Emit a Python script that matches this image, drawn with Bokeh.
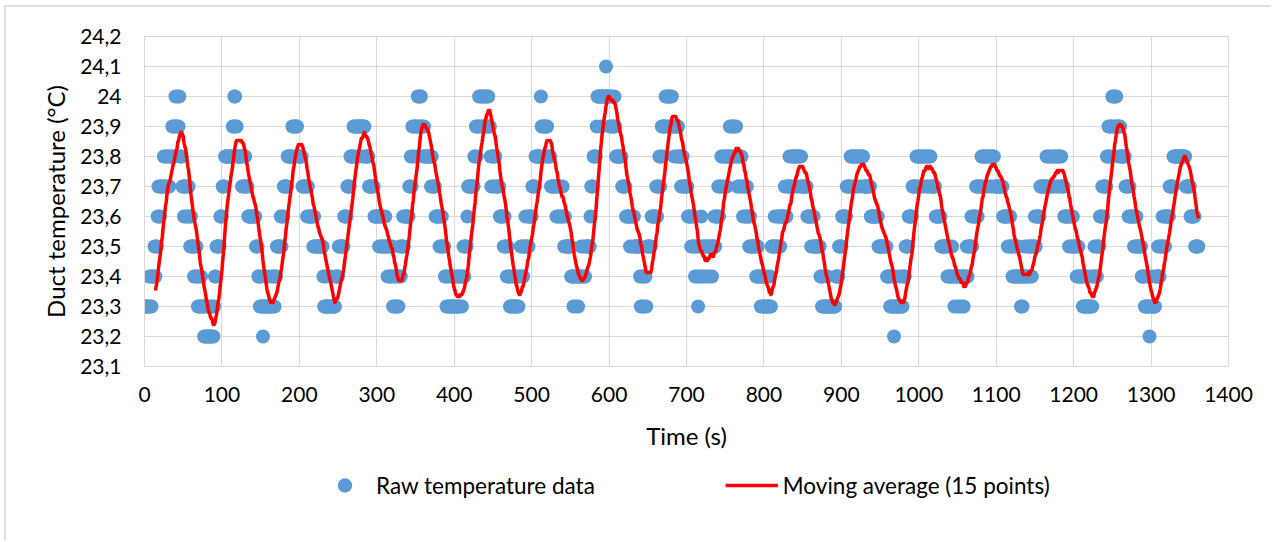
import numpy as np
import pandas as pd
from bokeh.plotting import figure
from bokeh.layouts import column
from bokeh.models import FixedTicker, Legend, LegendItem, ColumnDataSource
from bokeh.embed import file_html
from bokeh.resources import INLINE

# Duct temperature logged once per second. Each character is one reading in
# tenths of a degree above 23 degC, written as a hex digit:
# "2" = 23.2, "3" = 23.3, ..., "9" = 23.9, "a" = 24.0, "b" = 24.1.
# Blocks are named after the second at which they start.
raw_0000 = "333333" "4343444" "5455" "67667" "777" "8787887" "78" "889989" "a99a9a" "888" \
    "776776767" "656" "555" "4545" "434334333" "2322322322322"
raw_0090 = "344" "55555" "666" "7778" "888888888" "99aa99" "888888" "787787" "77" \
    "6666666666" "555" "4434" "332334333433334" "34344"
raw_0171 = "55555" "6566" "77777" "888888" "9989999" "88888" "87" "7777767" "666666" \
    "565" "5555555555" "433433333433333"
raw_0246 = "34444" "5555555" "6666" "7777" "8888" "998999899998999" "88888" "7777777" \
    "666666" "5656565565" "54545445" "34343343" "45455"
raw_0334 = "65666666" "7787" "9899899" "aa9aa9" "9898" "8888888" "787777" "66666" \
    "5656555" "44" "343343343334343" "3434434545"
raw_0415 = "55" "6" "77777777" "88" "989" "9a9aa9a9aa9a9a" "99" "8788788" "77777" \
    "66666" "5655" "4544" "3343343334334"
raw_0485 = "454545" "565565" "6666" "7777" "8888888" "a" "99899899" "8888" "777777" \
    "7676767667" "6565" "5555554" "4434434434" "44544544" "555555"
raw_0576 = "6" "777" "8888" "9" "aaaaa9aaaaabaaaa" "9a9a99" "a9" "88888888" "77777" \
    "66666566566" "5555555" "434343443" "5555556"
raw_0656 = "66666" "7677" "878" "98999" "a9aa9aa9a" "998998998" "88788" "777777" \
    "6666" "565654545345465" "455455455455455"
raw_0736 = "65666767" "787887887888" "989898989" "8787878" "7676767" "6656" \
    "55555554" "454443443" "3433433343"
raw_0810 = "55556556566566" "666766" "777877" "8887888788878" "7777777" "66666" \
    "56565" "5555555" "4434" "333334333333333" "34444"
raw_0897 = "5555" "666666" "77777" "88788878878887888" "777777777" "6666666666" \
    "55555555555" "4444" "33433233433334333" "444"
raw_0983 = "55556" "6666" "77777" "8878878878878878788" "777777" "6666666" \
    "55555555" "44544454" "4344344344344344"
raw_1061 = "4545555" "656666" "7767777" "88788878887887888" "77777777777" "666666" \
    "56565" "54544544544" "4343" "44544545455455"
raw_1149 = "5656" "6666" "77777777" "878787787878878788787" "77" "666666" "5656565" \
    "555" "44544444" "3343334333433" "4454545"
raw_1232 = "55" "66676" "7777" "88" "98989" "a9aa9a" "998998" "88888" "7777" "676" \
    "6666" "5656" "555555" "4444" "33433323343333" "444544"
raw_1312 = "5556565" "66666" "77777" "8888888888888888" "777777" "66666" "65" "5555"

raw_blocks = [raw_0000, raw_0090, raw_0171, raw_0246, raw_0334, raw_0415,
              raw_0485, raw_0576, raw_0656, raw_0736, raw_0810,
              raw_0897, raw_0983, raw_1061, raw_1149, raw_1232, raw_1312]

ma_window = 15
series_names = ["Raw temperature data", "Moving average (15 points)"]

x_ticks = [0, 100, 200, 300, 400, 500, 600, 700, 800, 900, 1000, 1100, 1200, 1300, 1400]
y_ticks = [23.1, 23.2, 23.3, 23.4, 23.5, 23.6, 23.7, 23.8, 23.9, 24.0, 24.1, 24.2]
y_tick_labels = ["23,1", "23,2", "23,3", "23,4", "23,5", "23,6", "23,7", "23,8",
                 "23,9", "24", "24,1", "24,2"]

codes = "".join(raw_blocks)
temperature = np.round(23.0 + np.array([int(c, 16) for c in codes]) / 10.0, 1)
time_s = np.arange(len(temperature))
moving_avg = pd.Series(temperature).rolling(ma_window).mean().to_numpy()

FONT = "Lato"
GRID = "#D9D9D9"
EDGE = "2px solid #DEDEDE"
BLUE = "#5B9BD5"
RED = "#FF0000"

# ---- main chart -----------------------------------------------------------
p = figure(width=1267, height=448,
           x_range=(0, 1400), y_range=(23.1, 24.2),
           output_backend="svg", toolbar_location=None,
           min_border_left=138, min_border_right=45,
           min_border_top=29, min_border_bottom=89,
           margin=(5, 0, 0, 4),
           styles={"border-left": EDGE, "border-top": EDGE})

p.background_fill_color = "white"
p.border_fill_color = "white"
p.outline_line_color = GRID

raw_src = ColumnDataSource(dict(t=time_s, temp=temperature))
ma_src = ColumnDataSource(dict(t=time_s[ma_window - 1:], ma=moving_avg[ma_window - 1:]))

dot_style = dict(size=14, fill_color=BLUE, line_color=None)
line_style = dict(line_color=RED, line_width=3.5, line_join="round")

p.scatter("t", "temp", source=raw_src, **dot_style)
p.line("t", "ma", source=ma_src, **line_style)

p.xaxis.ticker = FixedTicker(ticks=x_ticks)
p.yaxis.ticker = FixedTicker(ticks=y_ticks)
p.yaxis.major_label_overrides = dict(zip(y_ticks, y_tick_labels))

for ax in (p.xaxis[0], p.yaxis[0]):
    ax.major_tick_line_color = None
    ax.minor_tick_line_color = None
    ax.major_tick_in = 0
    ax.major_tick_out = 0
    ax.axis_line_color = GRID
    ax.major_label_text_font = FONT
    ax.major_label_text_font_size = "21px"
    ax.major_label_text_color = "#000000"
    ax.axis_label_text_font = FONT
    ax.axis_label_text_font_size = "24px"
    ax.axis_label_text_font_style = "normal"
    ax.axis_label_text_color = "#000000"

p.xaxis.axis_label = "Time (s)"
p.yaxis.axis_label = "Duct temperature (°C)"
p.yaxis.major_label_standoff = 23
p.xaxis.major_label_standoff = 20
p.xaxis.axis_label_standoff = 16
p.yaxis.axis_label_standoff = 7

p.xgrid.grid_line_color = GRID
p.ygrid.grid_line_color = GRID

# ---- legend strip under the chart ----------------------------------------
# The strip shares the chart's sources; its unit ranges keep the data itself
# out of view, so only the legend keys are visible.
lf = figure(width=1267, height=87, x_range=(0, 1), y_range=(0, 1),
            x_axis_type=None, y_axis_type=None,
            output_backend="svg", toolbar_location=None,
            min_border=0, margin=(0, 0, 0, 4),
            styles={"border-left": EDGE})
lf.outline_line_color = None
lf.background_fill_color = "white"
lf.border_fill_color = "white"
lf.grid.visible = False

key_dots = lf.scatter("t", "temp", source=raw_src, **dot_style)
key_line = lf.line("t", "ma", source=ma_src, **line_style)

# location is in pixels from the bottom-left corner of the strip's frame,
# which lines up with the chart's frame above it
legend = Legend(items=[LegendItem(label=series_names[0], renderers=[key_dots]),
                       LegendItem(label=series_names[1], renderers=[key_line])],
                orientation="horizontal", location=(174, 37),
                glyph_width=53, glyph_height=36, label_standoff=5, spacing=130,
                padding=0, margin=0,
                border_line_color=None, background_fill_alpha=0,
                label_text_font=FONT, label_text_font_size="22.5px",
                label_text_color="#000000")
lf.add_layout(legend, "center")

page = column(p, lf, spacing=0)
open("out.html", "w").write(file_html(page, INLINE))
